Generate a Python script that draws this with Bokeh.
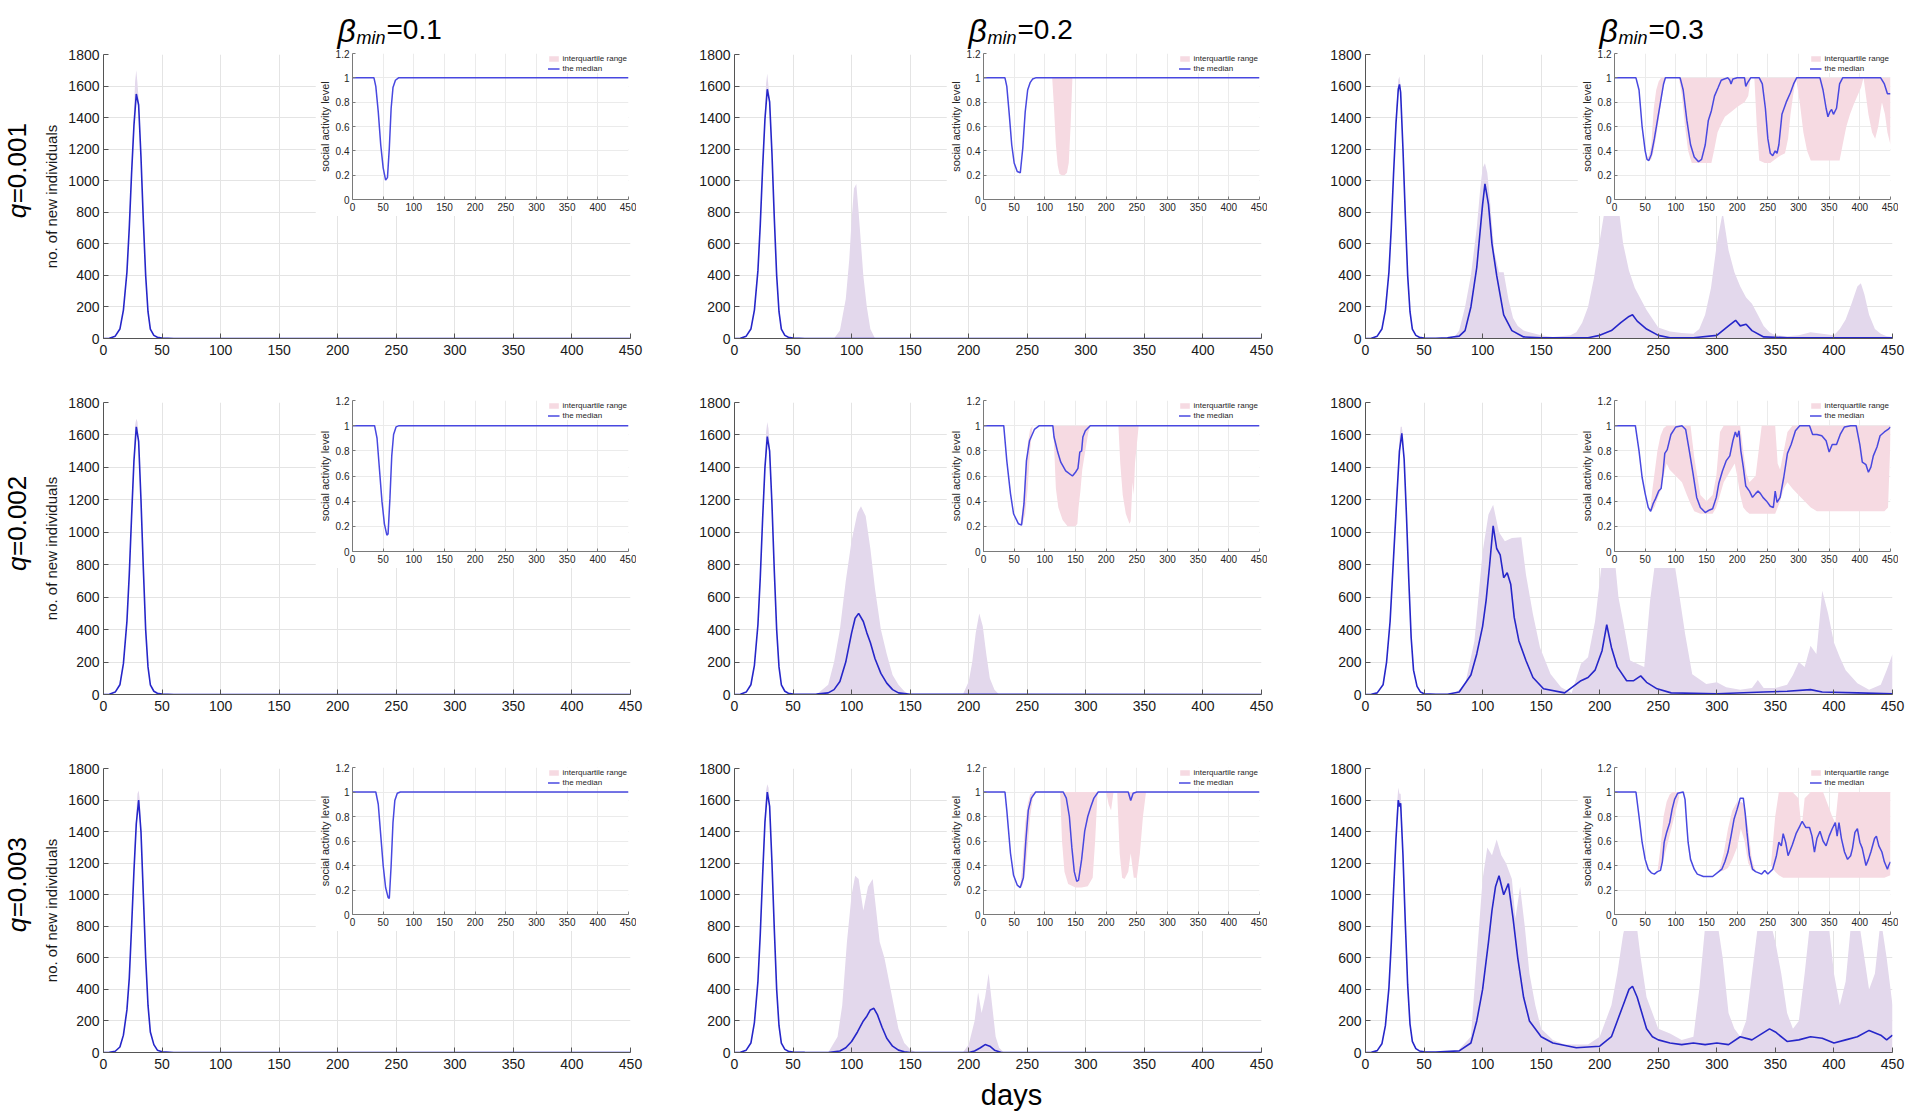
from bokeh.plotting import figure
from bokeh.models import (Range1d, SingleIntervalTicker, FixedTicker, Label, Legend,
                          LegendItem, CustomJSTickFormatter)
from bokeh.embed import file_html
from bokeh.resources import INLINE

# ---------------- labels ----------------
BETA_LABELS = ["=0.1", "=0.2", "=0.3"]
Q_LABELS = ["=0.001", "=0.002", "=0.003"]
Y_AXIS_LABEL = "no. of new individuals"
INSET_Y_LABEL = "social activity level"
X_AXIS_LABEL = "days"
LEGEND_IQR = "interquartile range"
LEGEND_MED = "the median"
INSET_Y_TICKS = [0, 0.2, 0.4, 0.6, 0.8, 1.0, 1.2]

# ---------------- data (P<row q><col beta>) ----------------
# row 1: q=0.001
P11_MED_X = [0, 5, 10, 14, 17, 20, 22, 24, 26, 28, 30, 32, 34, 36, 38, 40, 43, 46, 50, 60, 450]
P11_MED_Y = [0, 2, 15, 60, 180, 420, 700, 1050, 1350, 1550, 1480, 1150, 750, 400, 170, 60, 20, 8, 3, 0, 0]
P11_W1_X = [20, 24, 26, 27, 28, 29, 30, 32, 36]
P11_W1_LO = [420, 1050, 1350, 1470, 1550, 1520, 1480, 1150, 400]
P11_W1_HI = [430, 1080, 1450, 1630, 1700, 1620, 1520, 1180, 420]
P11_IQR_X = []
P11_IQR_HI = []
P11_IN_MED_X = [0, 35, 38, 42, 46, 50, 54, 57, 60, 63, 66, 70, 75, 450]
P11_IN_MED_Y = [1, 1, 0.93, 0.72, 0.45, 0.26, 0.16, 0.18, 0.42, 0.75, 0.92, 0.98, 1, 1]
P11_IN_IQR_X = [0, 450]
P11_IN_IQR_LO = [1, 1]
P11_IN_IQR_HI = [1, 1]

P12_MED_X = [0, 5, 10, 14, 17, 20, 22, 24, 26, 28, 30, 32, 34, 36, 38, 40, 43, 46, 50, 60, 450]
P12_MED_Y = [0, 2, 15, 60, 180, 430, 720, 1080, 1390, 1580, 1500, 1170, 760, 400, 170, 60, 20, 8, 3, 0, 0]
P12_W1_X = [20, 24, 26, 27, 28, 29, 30, 32, 36]
P12_W1_LO = [430, 1080, 1390, 1500, 1580, 1540, 1500, 1170, 400]
P12_W1_HI = [440, 1100, 1450, 1620, 1680, 1600, 1530, 1190, 420]
P12_IQR_X = [85, 90, 95, 98, 100, 102, 104, 106, 108, 110, 113, 116, 120]
P12_IQR_HI = [0, 50, 250, 500, 750, 950, 980, 800, 600, 400, 200, 60, 0]
P12_IN_MED_X = [0, 35, 38, 42, 46, 50, 55, 60, 64, 68, 72, 76, 80, 85, 450]
P12_IN_MED_Y = [1, 1, 0.93, 0.7, 0.45, 0.3, 0.23, 0.22, 0.42, 0.72, 0.9, 0.96, 0.99, 1, 1]
P12_IN_IQR_X = [0, 112, 115, 118, 121, 124, 128, 132, 136, 139, 142, 145, 450]
P12_IN_IQR_LO = [1, 1, 0.75, 0.45, 0.28, 0.21, 0.2, 0.2, 0.22, 0.3, 0.6, 1, 1]
P12_IN_IQR_HI = [1, 1, 1, 1, 1, 1, 1, 1, 1, 1, 1, 1, 1]

P13_MED_X = [0, 5, 10, 14, 17, 20, 22, 24, 26, 28, 29, 30, 32, 34, 36, 38, 40, 43, 46, 50,
             60, 70, 80, 85, 90, 95, 100, 102, 105, 108, 112, 118, 125, 135, 150, 180, 190, 200, 210, 218,
             225, 228, 232, 240, 250, 260, 280, 300, 310, 316, 320, 325, 330, 340, 360, 450]
P13_MED_Y = [0, 2, 15, 60, 180, 420, 700, 1050, 1360, 1580, 1610, 1560, 1200, 780, 400, 170, 60, 20, 8, 3,
             2, 5, 15, 50, 200, 450, 850, 980, 850, 600, 400, 150, 50, 10, 5, 5, 5, 20, 50, 100,
             140, 150, 110, 60, 20, 5, 5, 20, 80, 115, 80, 90, 50, 10, 5, 5]
P13_W1_X = [22, 26, 28, 29, 30, 32, 36, 40]
P13_W1_LO = [700, 1360, 1580, 1610, 1560, 1200, 400, 60]
P13_W1_HI = [720, 1420, 1640, 1660, 1600, 1230, 420, 60]
P13_IQR_X = [75, 80, 85, 90, 95, 98, 100, 102, 104, 106, 108, 110, 114, 118, 122, 126, 130, 135, 140, 150,
             160, 175, 180, 185, 190, 195, 200, 205, 210, 215, 220, 225, 230, 240, 250, 260, 270, 280, 285, 290,
             295, 300, 305, 310, 315, 320, 325, 330, 335, 340, 345, 350, 360, 370, 380, 390, 400, 405, 410, 415,
             420, 423, 426, 430, 435, 440, 445, 450]
P13_IQR_HI = [0, 50, 200, 400, 700, 950, 1080, 1110, 1050, 900, 720, 550, 420, 420, 250, 130, 80, 50, 40, 20,
              10, 20, 40, 100, 200, 380, 620, 850, 1000, 900, 600, 430, 320, 180, 70, 45, 35, 30, 60, 150,
              320, 600, 800, 560, 420, 330, 260, 220, 150, 80, 40, 20, 15, 20, 40, 30, 20, 60, 120, 220,
              330, 350, 280, 150, 60, 30, 15, 10]
P13_IN_MED_X = [0, 35, 40, 45, 50, 53, 56, 60, 65, 70, 75, 80, 83, 107, 112, 118, 124, 130, 137, 142,
                148, 153, 158, 163, 169, 174, 179, 185, 188, 190, 193, 200, 212, 214, 217, 222, 236, 241, 246, 250,
                254, 258, 262, 265, 268, 273, 280, 287, 292, 297, 335, 340, 345, 348, 351, 354, 357, 362, 367, 372,
                434, 440, 445, 450]
P13_IN_MED_Y = [1, 1, 0.9, 0.6, 0.4, 0.33, 0.32, 0.37, 0.5, 0.65, 0.8, 0.95, 1, 1, 0.9, 0.65, 0.45, 0.35, 0.31, 0.33,
                0.45, 0.65, 0.73, 0.85, 0.92, 0.98, 0.99, 1.0, 0.98, 0.95, 0.99, 1, 1, 0.93, 0.96, 1, 1, 0.95, 0.75, 0.5,
                0.38, 0.36, 0.4, 0.38, 0.45, 0.7, 0.8, 0.88, 0.95, 1, 1, 0.9, 0.75, 0.68, 0.72, 0.74, 0.7, 0.75, 0.95, 1,
                1, 0.95, 0.87, 0.87]
P13_IN_IQR_X = [0, 52, 56, 60, 64, 68, 72, 76, 80, 84, 105, 110, 115, 120, 126, 140, 158, 163, 168, 174,
                180, 190, 200, 206, 212, 218, 222, 228, 232, 236, 245, 254, 262, 270, 278, 283, 287, 291, 296, 302,
                308, 314, 320, 340, 367, 372, 378, 384, 390, 396, 402, 406, 410, 414, 420, 425, 430, 436, 441, 445,
                450]
P13_IN_IQR_LO = [1, 0.33, 0.32, 0.33, 0.4, 0.52, 0.65, 0.8, 0.95, 1, 1, 0.85, 0.6, 0.4, 0.3, 0.3, 0.3, 0.42, 0.55, 0.62,
                 0.68, 0.72, 0.76, 0.78, 0.8, 0.85, 1, 1, 0.6, 0.32, 0.3, 0.3, 0.33, 0.36, 0.38, 0.5, 0.7, 0.85, 1, 0.8,
                 0.55, 0.4, 0.32, 0.32, 0.32, 0.45, 0.6, 0.7, 0.78, 0.85, 0.92, 1, 0.85, 0.7, 0.55, 0.5, 0.6, 0.8, 0.7, 0.55,
                 0.45]
P13_IN_IQR_HI = [1, 0.33, 0.36, 0.45, 0.75, 0.9, 0.97, 1, 1, 1, 1, 1, 1, 1, 1, 1, 1, 1, 1, 1,
                 1, 1, 1, 1, 1, 1, 1, 1, 1, 1, 1, 1, 1, 1, 1, 1, 1, 1, 1, 1,
                 1, 1, 1, 1, 1, 1, 1, 1, 1, 1, 1, 1, 1, 1, 1, 1, 1, 1, 1, 1,
                 1]

# row 2: q=0.002
P21_MED_X = [0, 5, 10, 14, 17, 20, 22, 24, 26, 28, 30, 32, 34, 36, 38, 40, 43, 46, 50, 60, 450]
P21_MED_Y = [0, 2, 15, 60, 190, 450, 740, 1100, 1440, 1650, 1560, 1200, 780, 400, 170, 60, 20, 8, 3, 0, 0]
P21_W1_X = [22, 26, 27, 28, 29, 30, 32, 36]
P21_W1_LO = [740, 1440, 1570, 1650, 1620, 1560, 1200, 400]
P21_W1_HI = [750, 1480, 1660, 1700, 1680, 1590, 1220, 410]
P21_IQR_X = []
P21_IQR_HI = []
P21_IN_MED_X = [0, 36, 40, 44, 48, 52, 56, 58, 61, 64, 67, 71, 76, 450]
P21_IN_MED_Y = [1, 1, 0.9, 0.65, 0.4, 0.22, 0.13, 0.14, 0.42, 0.76, 0.93, 0.99, 1, 1]
P21_IN_IQR_X = [0, 450]
P21_IN_IQR_LO = [1, 1]
P21_IN_IQR_HI = [1, 1]

P22_MED_X = [0, 5, 10, 14, 17, 20, 22, 24, 26, 28, 30, 32, 34, 36, 38, 40, 43, 46, 50, 60,
             70, 80, 85, 90, 95, 100, 103, 106, 110, 113, 116, 120, 125, 130, 135, 140, 150, 450]
P22_MED_Y = [0, 2, 15, 60, 180, 430, 720, 1080, 1400, 1590, 1500, 1170, 760, 400, 170, 60, 20, 8, 3, 1,
             3, 10, 30, 80, 200, 380, 470, 500, 450, 380, 320, 220, 130, 70, 30, 10, 2, 0]
P22_W1_X = [22, 26, 27, 28, 29, 30, 32, 36]
P22_W1_LO = [720, 1400, 1520, 1590, 1560, 1500, 1170, 400]
P22_W1_HI = [730, 1440, 1620, 1680, 1640, 1540, 1190, 410]
P22_IQR_X = [70, 80, 85, 90, 95, 100, 105, 108, 112, 116, 120, 125, 130, 135, 140, 145, 150, 190, 195, 200,
             203, 206, 209, 212, 215, 218, 222, 226, 235]
P22_IQR_HI = [0, 60, 200, 400, 700, 950, 1120, 1160, 1100, 900, 650, 400, 250, 120, 60, 20, 0, 0, 0, 80,
              200, 380, 500, 420, 250, 100, 30, 0, 0]
P22_IN_MED_X = [0, 33, 38, 44, 49, 57, 62, 66, 70, 75, 83, 91, 113, 115, 121, 126, 134, 145, 150, 154,
                157, 160, 162, 166, 174, 450]
P22_IN_MED_Y = [1, 1, 0.72, 0.46, 0.3, 0.22, 0.21, 0.38, 0.72, 0.88, 0.97, 1, 1, 0.91, 0.79, 0.71, 0.64, 0.6, 0.63, 0.66,
                0.79, 0.8, 0.91, 0.96, 1, 1]
P22_IN_IQR_X = [0, 60, 64, 68, 72, 76, 80, 113, 115, 118, 122, 129, 137, 150, 153, 155, 158, 161, 166, 171,
                174, 220, 223, 227, 232, 238, 240, 243, 245, 247, 251, 253, 450]
P22_IN_IQR_LO = [1, 0.21, 0.22, 0.3, 0.5, 0.8, 1, 1, 0.85, 0.5, 0.35, 0.25, 0.2, 0.2, 0.22, 0.35, 0.48, 0.65, 0.8, 0.95,
                 1, 1, 0.7, 0.45, 0.3, 0.22, 0.24, 0.55, 0.45, 0.7, 0.9, 1, 1]
P22_IN_IQR_HI = [1, 0.21, 0.35, 0.6, 0.85, 0.97, 1, 1, 1, 1, 1, 1, 1, 1, 1, 1, 1, 1, 1, 1,
                 1, 1, 1, 1, 1, 1, 1, 1, 1, 1, 1, 1, 1]

P23_MED_X = [0, 5, 10, 15, 18, 21, 24, 27, 29, 31, 33, 35, 37, 39, 41, 44, 47, 50, 60, 70,
             80, 90, 95, 100, 103, 106, 109, 112, 115, 118, 121, 124, 127, 131, 137, 143, 152, 170, 184, 190,
             196, 202, 206, 210, 215, 223, 229, 235, 240, 249, 261, 300, 340, 360, 380, 390, 420, 450]
P23_MED_Y = [0, 2, 10, 60, 200, 450, 850, 1250, 1500, 1610, 1450, 1100, 700, 350, 150, 50, 15, 5, 2, 2,
             15, 120, 250, 420, 580, 800, 1040, 900, 860, 720, 750, 680, 475, 330, 210, 105, 35, 10, 85, 105,
             150, 270, 430, 290, 170, 85, 85, 115, 75, 35, 10, 5, 15, 20, 30, 15, 10, 5]
P23_W1_X = [24, 27, 29, 30, 31, 32, 33, 35]
P23_W1_LO = [850, 1250, 1500, 1580, 1610, 1560, 1450, 1100]
P23_W1_HI = [870, 1300, 1580, 1650, 1650, 1600, 1480, 1120]
P23_IQR_X = [75, 85, 93, 100, 105, 109, 114, 119, 125, 133, 137, 143, 149, 158, 167, 176, 184, 190, 196, 200,
             204, 208, 212, 216, 220, 226, 232, 238, 243, 247, 251, 255, 259, 263, 267, 273, 279, 291, 300, 308,
             320, 330, 335, 340, 350, 360, 365, 370, 375, 380, 385, 390, 395, 400, 405, 410, 420, 430, 440, 445,
             450]
P23_IQR_HI = [0, 60, 330, 880, 1110, 1170, 1000, 945, 965, 970, 740, 495, 290, 127, 45, 10, 190, 230, 450, 700,
              950, 1000, 900, 600, 450, 210, 190, 170, 580, 800, 950, 1000, 950, 850, 660, 370, 125, 65, 75, 45,
              30, 40, 90, 40, 40, 60, 120, 200, 170, 300, 250, 640, 500, 320, 230, 150, 70, 30, 60, 150,
              250]
P23_IN_MED_X = [0, 34, 40, 45, 50, 55, 59, 63, 67, 72, 76, 79, 82, 86, 92, 100, 110, 116, 122, 128,
                134, 140, 148, 155, 160, 166, 170, 176, 182, 188, 193, 197, 200, 203, 206, 210, 214, 220, 225, 230,
                234, 238, 242, 248, 254, 259, 262, 265, 270, 276, 282, 288, 295, 302, 318, 323, 330, 338, 345, 350,
                355, 362, 368, 375, 385, 394, 400, 404, 410, 414, 418, 422, 428, 433, 440, 446, 450]
P23_IN_MED_Y = [1, 1, 0.8, 0.59, 0.46, 0.35, 0.32, 0.38, 0.42, 0.48, 0.5, 0.62, 0.78, 0.81, 0.93, 0.99, 1, 0.97, 0.8, 0.62,
                0.43, 0.35, 0.31, 0.33, 0.34, 0.43, 0.54, 0.64, 0.72, 0.76, 0.88, 0.95, 0.91, 0.96, 0.8, 0.67, 0.52, 0.48, 0.43, 0.46,
                0.48, 0.46, 0.43, 0.4, 0.36, 0.35, 0.48, 0.39, 0.43, 0.59, 0.78, 0.85, 0.96, 1, 1, 0.93, 0.93, 0.92, 0.88, 0.79,
                0.85, 0.85, 0.93, 0.99, 1, 1, 0.85, 0.71, 0.69, 0.63, 0.67, 0.76, 0.83, 0.92, 0.95, 0.97, 0.99]
P23_IN_IQR_X = [0, 58, 62, 66, 70, 75, 80, 85, 90, 100, 110, 118, 124, 130, 140, 150, 160, 166, 172, 178,
                184, 190, 196, 200, 205, 210, 215, 220, 230, 240, 250, 256, 262, 266, 270, 276, 282, 290, 300, 310,
                320, 330, 340, 350, 360, 370, 380, 390, 400, 410, 420, 430, 440, 446, 450]
P23_IN_IQR_LO = [1, 0.33, 0.33, 0.36, 0.42, 0.48, 0.6, 0.7, 0.65, 0.6, 0.55, 0.45, 0.38, 0.32, 0.3, 0.3, 0.3, 0.35, 0.45, 0.55,
                 0.6, 0.65, 0.7, 0.6, 0.45, 0.35, 0.32, 0.3, 0.3, 0.3, 0.3, 0.3, 0.3, 0.35, 0.4, 0.5, 0.55, 0.5, 0.45, 0.4,
                 0.35, 0.32, 0.32, 0.32, 0.32, 0.32, 0.32, 0.32, 0.32, 0.32, 0.32, 0.32, 0.32, 0.35, 0.9]
P23_IN_IQR_HI = [1, 0.33, 0.5, 0.65, 0.8, 0.92, 0.98, 1, 1, 1, 1, 1, 1, 0.75, 0.45, 0.4, 0.45, 0.6, 0.95, 1,
                 1, 1, 1, 1, 1, 0.8, 0.62, 0.55, 0.6, 1, 1, 1, 1, 0.7, 0.65, 0.8, 0.95, 1, 1, 1,
                 1, 1, 1, 1, 1, 1, 1, 1, 1, 1, 1, 1, 1, 1, 1]

# row 3: q=0.003
P31_MED_X = [0, 5, 10, 14, 17, 20, 22, 24, 26, 28, 30, 32, 34, 36, 38, 40, 43, 46, 50, 60, 450]
P31_MED_Y = [0, 1, 8, 35, 110, 270, 470, 800, 1150, 1450, 1600, 1400, 1000, 600, 300, 130, 50, 15, 5, 0, 0]
P31_W1_X = [24, 26, 28, 29, 30, 31, 32, 34]
P31_W1_LO = [800, 1150, 1450, 1550, 1600, 1520, 1400, 1000]
P31_W1_HI = [820, 1200, 1520, 1640, 1660, 1600, 1440, 1020]
P31_IQR_X = []
P31_IQR_HI = []
P31_IN_MED_X = [0, 38, 42, 46, 50, 54, 58, 60, 63, 66, 69, 73, 78, 450]
P31_IN_MED_Y = [1, 1, 0.9, 0.65, 0.4, 0.22, 0.14, 0.13, 0.4, 0.75, 0.93, 0.99, 1, 1]
P31_IN_IQR_X = [0, 450]
P31_IN_IQR_LO = [1, 1]
P31_IN_IQR_HI = [1, 1]

P32_MED_X = [0, 5, 10, 14, 17, 20, 22, 24, 26, 28, 30, 32, 34, 36, 38, 40, 43, 46, 50, 60,
             80, 90, 95, 100, 105, 110, 113, 116, 119, 122, 126, 130, 135, 140, 145, 150, 200, 205, 210, 214,
             218, 222, 228, 450]
P32_MED_Y = [0, 2, 15, 60, 190, 450, 750, 1120, 1460, 1650, 1560, 1200, 780, 400, 170, 60, 20, 8, 3, 1,
             0, 10, 30, 70, 130, 200, 230, 270, 280, 240, 160, 90, 40, 15, 5, 0, 0, 10, 30, 50,
             40, 15, 0, 0]
P32_W1_X = [22, 26, 27, 28, 29, 30, 32, 36]
P32_W1_LO = [750, 1460, 1580, 1650, 1620, 1560, 1200, 400]
P32_W1_HI = [760, 1500, 1660, 1700, 1680, 1600, 1220, 410]
P32_IQR_X = [80, 88, 92, 96, 100, 103, 106, 110, 114, 118, 121, 124, 128, 132, 136, 140, 145, 150, 155, 195,
             200, 205, 208, 211, 214, 217, 220, 223, 226, 230]
P32_IQR_HI = [0, 100, 300, 700, 1000, 1120, 1100, 900, 1050, 1100, 900, 700, 600, 450, 300, 150, 60, 20, 0, 0,
              50, 200, 380, 250, 350, 500, 300, 100, 30, 0]
P32_IN_MED_X = [0, 35, 38, 44, 49, 55, 60, 65, 69, 73, 78, 85, 130, 135, 140, 144, 148, 152, 155, 160,
                165, 170, 175, 180, 187, 236, 240, 244, 250, 450]
P32_IN_MED_Y = [1, 1, 0.85, 0.5, 0.32, 0.24, 0.22, 0.3, 0.6, 0.85, 0.95, 1, 1, 0.95, 0.8, 0.55, 0.35, 0.27, 0.28, 0.45,
                0.68, 0.8, 0.88, 0.95, 1, 1, 0.93, 0.99, 1, 1]
P32_IN_IQR_X = [0, 60, 64, 68, 72, 76, 82, 125, 128, 132, 138, 150, 160, 170, 178, 182, 186, 200, 204, 208,
                212, 218, 222, 226, 230, 236, 240, 245, 250, 255, 260, 265, 450]
P32_IN_IQR_LO = [1, 0.22, 0.24, 0.35, 0.55, 0.8, 1, 1, 0.6, 0.35, 0.25, 0.22, 0.22, 0.23, 0.3, 0.6, 1, 1, 0.9, 0.85,
                 1, 1, 0.5, 0.3, 0.29, 0.35, 0.5, 0.3, 0.3, 0.5, 0.8, 1, 1]
P32_IN_IQR_HI = [1, 0.22, 0.45, 0.75, 0.9, 0.98, 1, 1, 1, 1, 1, 1, 1, 1, 1, 1, 1, 1, 1, 1,
                 1, 1, 1, 1, 1, 1, 1, 1, 1, 1, 1, 1, 1]

P33_MED_X = [0, 5, 10, 14, 17, 20, 22, 24, 26, 28, 29, 30, 32, 34, 36, 38, 40, 43, 46, 50,
             60, 80, 90, 95, 100, 105, 108, 111, 114, 118, 122, 126, 130, 135, 140, 150, 160, 180, 200, 210,
             215, 220, 225, 228, 232, 236, 240, 245, 250, 260, 270, 280, 290, 300, 310, 320, 330, 345, 350, 360,
             370, 380, 390, 400, 410, 420, 430, 440, 445, 450]
P33_MED_Y = [0, 2, 12, 55, 170, 410, 690, 1030, 1350, 1600, 1560, 1580, 1250, 820, 430, 180, 70, 25, 10, 5,
             3, 10, 60, 200, 400, 700, 900, 1050, 1120, 1000, 1070, 850, 600, 350, 200, 100, 60, 30, 40, 100,
             200, 300, 400, 420, 350, 250, 150, 100, 80, 60, 50, 60, 50, 60, 50, 100, 80, 150, 130, 70,
             80, 100, 90, 60, 80, 100, 140, 110, 80, 110]
P33_W1_X = [24, 26, 27, 28, 29, 30, 31, 32, 34]
P33_W1_LO = [1030, 1350, 1480, 1600, 1560, 1580, 1450, 1250, 820]
P33_W1_HI = [1050, 1420, 1580, 1680, 1640, 1640, 1520, 1280, 840]
P33_IQR_X = [80, 90, 95, 100, 104, 108, 112, 116, 120, 125, 128, 132, 136, 140, 145, 150, 160, 170, 190, 200,
             210, 215, 220, 225, 230, 235, 240, 245, 250, 260, 270, 280, 285, 290, 295, 300, 305, 310, 315, 320,
             325, 330, 335, 340, 345, 350, 355, 360, 365, 370, 375, 380, 390, 395, 400, 405, 410, 415, 420, 425,
             430, 435, 440, 445, 450]
P33_IQR_HI = [20, 100, 600, 1100, 1300, 1250, 1350, 1250, 1200, 1100, 850, 1050, 800, 500, 300, 150, 80, 50, 50, 100,
              300, 500, 750, 900, 900, 600, 350, 250, 150, 120, 80, 100, 400, 800, 900, 850, 600, 250, 150, 100,
              200, 500, 800, 900, 850, 700, 500, 250, 150, 200, 500, 850, 900, 850, 500, 300, 450, 850, 900, 650,
              400, 500, 850, 600, 300]
P33_IN_MED_X = [0, 35, 40, 45, 50, 55, 60, 65, 70, 75, 78, 81, 85, 90, 94, 98, 103, 112, 115, 118,
                120, 124, 130, 135, 145, 160, 170, 175, 180, 185, 190, 195, 200, 205, 210, 213, 216, 220, 225, 230,
                240, 245, 250, 258, 264, 268, 272, 275, 279, 283, 290, 296, 302, 306, 312, 318, 322, 326, 330, 335,
                340, 345, 350, 355, 360, 363, 366, 370, 375, 380, 385, 388, 392, 396, 400, 404, 410, 414, 418, 424,
                427, 431, 436, 440, 445, 447, 450]
P33_IN_MED_Y = [1, 1, 0.8, 0.59, 0.45, 0.37, 0.34, 0.33, 0.35, 0.36, 0.43, 0.59, 0.67, 0.75, 0.86, 0.94, 0.99, 1, 0.94, 0.72,
                0.59, 0.45, 0.37, 0.33, 0.31, 0.31, 0.35, 0.37, 0.43, 0.51, 0.64, 0.78, 0.86, 0.95, 0.95, 0.83, 0.67, 0.48, 0.37, 0.35,
                0.33, 0.36, 0.33, 0.37, 0.48, 0.59, 0.56, 0.66, 0.59, 0.48, 0.57, 0.66, 0.72, 0.76, 0.71, 0.71, 0.64, 0.51, 0.62, 0.68,
                0.6, 0.56, 0.64, 0.7, 0.75, 0.64, 0.75, 0.62, 0.51, 0.45, 0.48, 0.54, 0.67, 0.7, 0.59, 0.54, 0.4, 0.45, 0.51, 0.62,
                0.64, 0.56, 0.51, 0.43, 0.37, 0.4, 0.43]
P33_IN_IQR_X = [0, 70, 75, 80, 85, 90, 95, 100, 105, 106, 170, 178, 185, 192, 200, 206, 212, 218, 224, 230,
                255, 262, 268, 275, 290, 300, 305, 310, 320, 340, 355, 360, 365, 375, 400, 420, 440, 450]
P33_IN_IQR_LO = [1, 0.35, 0.38, 0.45, 0.55, 0.65, 0.75, 0.85, 0.95, 1, 0.35, 0.36, 0.38, 0.45, 0.55, 0.7, 0.6, 0.42, 0.36, 0.35,
                 0.4, 0.35, 0.32, 0.3, 0.3, 0.3, 0.3, 0.3, 0.3, 0.3, 0.3, 0.3, 0.3, 0.3, 0.3, 0.3, 0.3, 0.32]
P33_IN_IQR_HI = [1, 0.35, 0.55, 0.8, 0.92, 0.98, 1, 1, 1, 1, 0.35, 0.5, 0.7, 0.85, 0.92, 0.92, 0.9, 0.7, 0.45, 0.35,
                 0.4, 0.8, 1, 1, 1, 0.95, 0.7, 0.95, 1, 1, 0.8, 0.75, 1, 1, 1, 1, 1, 1]

# table built from the named arrays
G = globals()
PANELS = {}
for r in range(3):
    for c in range(3):
        k = f"P{r + 1}{c + 1}_"
        PANELS[(r, c)] = {n: G[k + n] for n in
                          ["MED_X", "MED_Y", "W1_X", "W1_LO", "W1_HI", "IQR_X", "IQR_HI",
                           "IN_MED_X", "IN_MED_Y", "IN_IQR_X", "IN_IQR_LO", "IN_IQR_HI"]}

# ---------------- layout / style (page pixel positions) ----------------
FONT = "Liberation Sans"
COL_X = [103, 734, 1365]
FW = 527
ROW_Y = [54, 402, 768]
ROW_H = [284, 292, 284]
INSET_DX = 246
INSET_W = 279
INSET_Y = [53, 400, 767]
INSET_H = [146, 151, 147]

MAIN_IQR = "#e3d8ec"
MAIN_MED = "#2626c9"
IN_IQR = "#f6dae2"
IN_MED = "#4848e0"
AX_COL = "#555555"
TXT = "#1a1a1a"


def pos(x, y, z):
    return {"position": "absolute", "left": f"{x}px", "top": f"{y}px", "z-index": str(z)}


def style_axes(p, size, tick_in, col, lcol):
    for ax in (p.xaxis[0], p.yaxis[0]):
        ax.axis_line_color = col
        ax.major_tick_line_color = col
        ax.major_tick_in = tick_in
        ax.major_tick_out = 0
        ax.minor_tick_line_color = None
        ax.major_label_text_font = FONT
        ax.major_label_text_font_size = size
        ax.major_label_text_color = lcol


roots = []
for r in range(3):
    for c in range(3):
        d = PANELS[(r, c)]
        fx, fy, fh = COL_X[c], ROW_Y[r], ROW_H[r]
        L = 72 if c == 0 else 50
        T, B, R = 12, 30, 16
        p = figure(width=L + FW + R, height=T + fh + B,
                   x_range=Range1d(0, 450), y_range=Range1d(0, 1800),
                   min_border_left=L, min_border_right=R, min_border_top=T, min_border_bottom=B,
                   output_backend="svg", toolbar_location=None, outline_line_color=None,
                   background_fill_color="white", border_fill_color="white",
                   styles=pos(fx - L, fy - T, 1))
        p.xaxis.ticker = SingleIntervalTicker(interval=50, num_minor_ticks=0)
        p.yaxis.ticker = SingleIntervalTicker(interval=200, num_minor_ticks=0)
        style_axes(p, "14px", 5, AX_COL, TXT)
        p.xaxis.major_label_standoff = 6
        p.yaxis.major_label_standoff = 4
        p.xgrid.grid_line_color = "#e4e4e4"
        p.ygrid.grid_line_color = "#e4e4e4"
        if c == 0:
            p.yaxis.axis_label = Y_AXIS_LABEL
            p.yaxis.axis_label_text_font = FONT
            p.yaxis.axis_label_text_font_style = "normal"
            p.yaxis.axis_label_text_font_size = "15px"
            p.yaxis.axis_label_text_color = TXT
            p.yaxis.axis_label_standoff = 5

        p.varea(x=d["IQR_X"], y1=0, y2=d["IQR_HI"], fill_color=MAIN_IQR, fill_alpha=1.0)
        p.varea(x=d["W1_X"], y1=d["W1_LO"], y2=d["W1_HI"], fill_color=MAIN_IQR, fill_alpha=1.0)
        p.line(x=d["MED_X"], y=d["MED_Y"], line_color=MAIN_MED, line_width=1.6)
        roots.append(p)

        # inset
        ix, iy, ih = fx + INSET_DX, INSET_Y[r], INSET_H[r]
        iL, iR, iT, iB = 34, 8, 7, 17
        q = figure(width=iL + INSET_W + iR, height=iT + ih + iB,
                   x_range=Range1d(0, 450), y_range=Range1d(0, 1.2),
                   min_border_left=iL, min_border_right=iR, min_border_top=iT, min_border_bottom=iB,
                   output_backend="svg", toolbar_location=None, outline_line_color=None,
                   background_fill_color="white", border_fill_color="white",
                   styles=pos(ix - iL, iy - iT, 2))
        q.xaxis.ticker = SingleIntervalTicker(interval=50, num_minor_ticks=0)
        q.yaxis.ticker = FixedTicker(ticks=INSET_Y_TICKS)
        q.yaxis.formatter = CustomJSTickFormatter(code="return String(Math.round(tick * 10) / 10);")
        style_axes(q, "10px", 3, "#7a7a7a", "#262626")
        q.xaxis.major_label_standoff = 3
        q.yaxis.major_label_standoff = 3
        q.xgrid.grid_line_color = "#ebebeb"
        q.ygrid.grid_line_color = "#ebebeb"
        q.yaxis.axis_label = INSET_Y_LABEL
        q.yaxis.axis_label_text_font = FONT
        q.yaxis.axis_label_text_font_style = "normal"
        q.yaxis.axis_label_text_font_size = "11px"
        q.yaxis.axis_label_text_color = "#262626"
        q.yaxis.axis_label_standoff = 2

        ri = q.varea(x=d["IN_IQR_X"], y1=d["IN_IQR_LO"], y2=d["IN_IQR_HI"],
                     fill_color=IN_IQR, fill_alpha=1.0)
        rm = q.line(x=d["IN_MED_X"], y=d["IN_MED_Y"], line_color=IN_MED, line_width=1.5)
        leg = Legend(items=[LegendItem(label=LEGEND_IQR, renderers=[ri]),
                            LegendItem(label=LEGEND_MED, renderers=[rm])],
                     location="top_right", label_text_font=FONT, label_text_font_size="8px",
                     label_text_color="#262626", glyph_width=12, glyph_height=7, label_height=8,
                     label_standoff=3, spacing=1, padding=2, margin=1,
                     border_line_color=None, background_fill_color="white", background_fill_alpha=1.0)
        q.add_layout(leg)
        roots.append(q)

# ---------------- overlay with the page texts (titles, row labels, "days") ----------------
OW, OH = 1900, 1116
ov = figure(width=OW, height=OH, x_range=Range1d(0, OW), y_range=Range1d(OH, 0),
            min_border=0, x_axis_location=None, y_axis_location=None,
            output_backend="svg", toolbar_location=None, outline_line_color=None,
            background_fill_color=None, border_fill_color=None,
            styles={**pos(0, 0, 3), "pointer-events": "none"})
ov.xgrid.visible = False
ov.ygrid.visible = False


def add_text(x, y, text, size, style="normal", align="left", baseline="alphabetic", angle=0):
    ov.add_layout(Label(x=x, y=y, text=text, text_font=FONT, text_font_size=size,
                        text_font_style=style, text_align=align, text_baseline=baseline,
                        angle=angle, angle_units="deg", text_color="black"))


for c in range(3):
    x0 = COL_X[c] + 234
    add_text(x0, 30, "β", "32px", "italic")
    add_text(x0 + 19, 37, "min", "18px", "italic")
    add_text(x0 + 49, 29, BETA_LABELS[c], "28px")

for r in range(3):
    bottom = ROW_Y[r] + 0.577 * ROW_H[r]
    add_text(16, bottom, "q", "26px", "italic", baseline="middle", angle=90)
    add_text(16, bottom - 15, Q_LABELS[r], "26px", baseline="middle", angle=90)

add_text(1011, 1094, X_AXIS_LABEL, "29px", align="center", baseline="middle")
roots.append(ov)

open("out.html", "w").write(file_html(roots, INLINE))
